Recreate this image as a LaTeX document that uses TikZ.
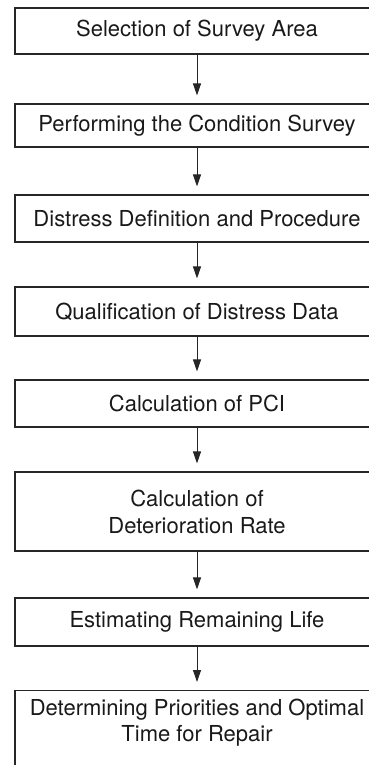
\documentclass[tikz,border=0pt]{standalone}
\usepackage{fontspec}
\setmainfont{TeX Gyre Heros}
\usetikzlibrary{arrows.meta}
\begin{document}
\begin{tikzpicture}[x=1pt,y=1pt,
  box/.style={draw=black!85, line width=1.1pt, rectangle, inner sep=0pt,
    minimum width=364pt, align=center, text=black!90,
    font=\fontsize{22}{27}\selectfont},
  arr/.style={draw=black!85, line width=0.9pt, -{Triangle[length=12pt,width=8pt]}, shorten >=8pt}]
\useasboundingbox (0,0) rectangle (369,-765);
\clip (0,0) rectangle (369,-765);
\node[box, minimum height=46pt] (b1) at (197,-31) {Selection of Survey Area};
\node[box, minimum height=43pt] (b2) at (197,-125.5) {Performing the Condition Survey};
\node[box, minimum height=47pt] (b3) at (197,-218.5) {Distress Definition and Procedure};
\node[box, minimum height=49pt] (b4) at (197,-311.5) {Qualification of Distress Data};
\node[box, minimum height=47pt] (b5) at (197,-403.5) {Calculation of PCI};
\node[box, minimum height=79pt] (b6) at (197,-511.5) {Calculation of\\Deterioration Rate};
\node[box, minimum height=48pt] (b7) at (197,-622) {Estimating Remaining Life};
\node[box, anchor=north] (b8) at (197,-690)
  {\parbox[c][110pt][t]{364pt}{\centering\fontsize{22}{26}\selectfont\vspace{9pt}Determining Priorities and Optimal\\Time for Repair}};
\draw[arr] (b1) -- (b2);
\draw[arr] (b2) -- (b3);
\draw[arr] (b3) -- (b4);
\draw[arr] (b4) -- (b5);
\draw[arr] (b5) -- (b6);
\draw[arr] (b6) -- (b7);
\draw[arr] (b7) -- (b8);
\end{tikzpicture}
\end{document}
